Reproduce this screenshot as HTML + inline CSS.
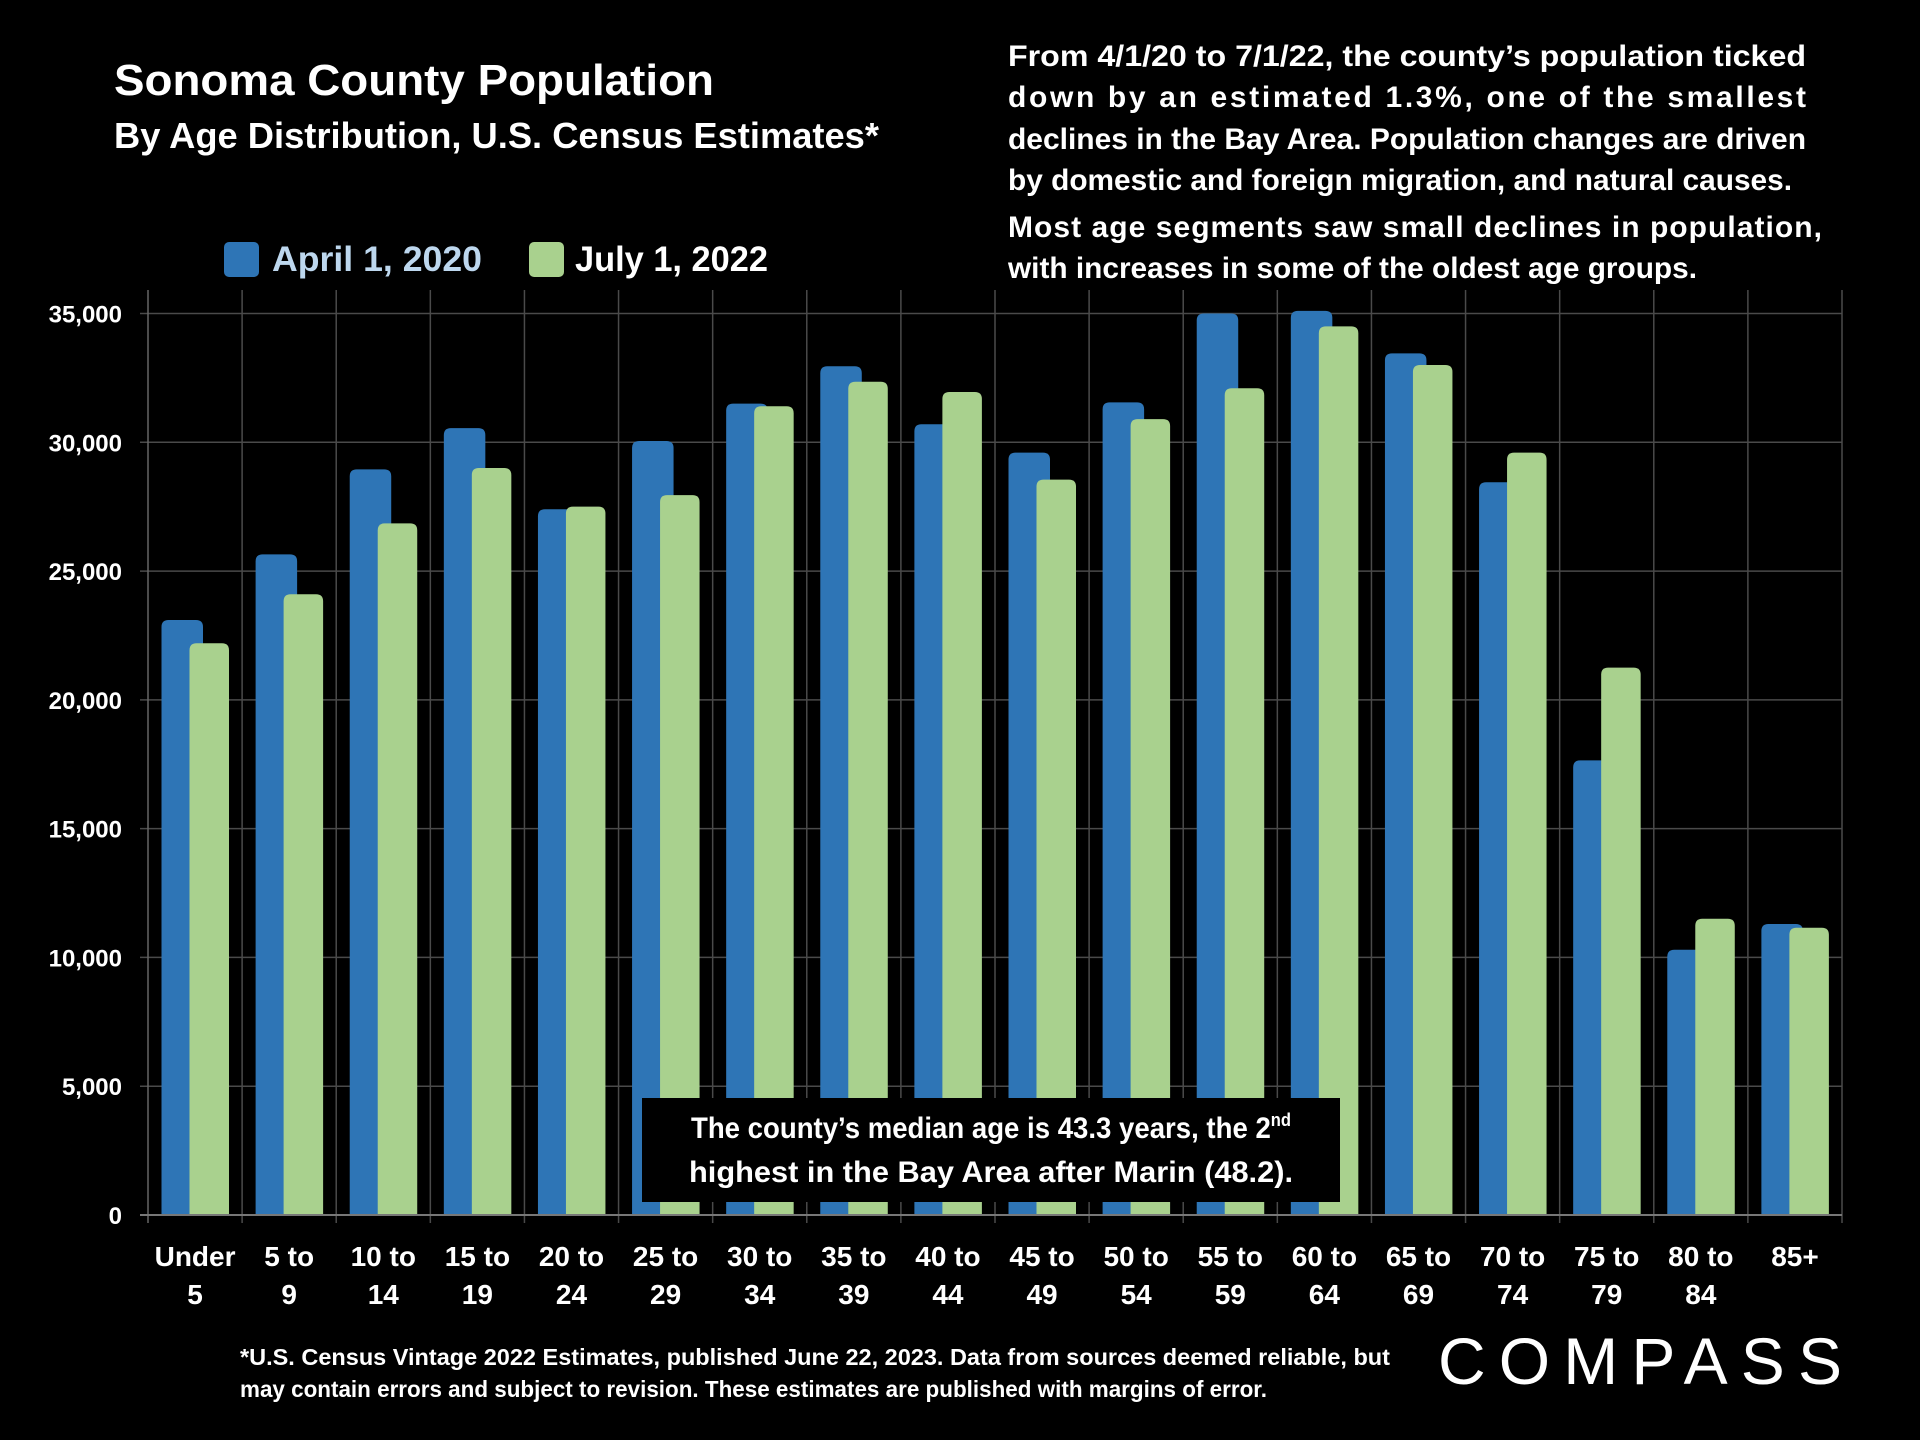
<!DOCTYPE html>
<html><head><meta charset="utf-8"><style>
html,body{margin:0;padding:0;background:#000;}
svg{display:block;font-family:"Liberation Sans",sans-serif;font-weight:bold;}
</style></head><body>
<svg id="chart" width="1920" height="1440" viewBox="0 0 1920 1440" xmlns="http://www.w3.org/2000/svg">
<rect width="1920" height="1440" fill="#000"/>
<g fill="#fff">
<text x="114" y="95" font-size="44" textLength="600" lengthAdjust="spacingAndGlyphs">Sonoma County Population</text>
<text x="114" y="148" font-size="36" textLength="765" lengthAdjust="spacingAndGlyphs">By Age Distribution, U.S. Census Estimates*</text>
</g>
<g fill="#fff" font-size="30">
<text x="1008" y="66" textLength="798" lengthAdjust="spacingAndGlyphs">From 4/1/20 to 7/1/22, the county’s population ticked</text>
<text x="1008" y="107" textLength="798" lengthAdjust="spacing">down by an estimated 1.3%, one of the smallest</text>
<text x="1008" y="149" textLength="798" lengthAdjust="spacingAndGlyphs">declines in the Bay Area. Population changes are driven</text>
<text x="1008" y="190" textLength="784" lengthAdjust="spacingAndGlyphs">by domestic and foreign migration, and natural causes.</text>
<text x="1008" y="237" textLength="814" lengthAdjust="spacing">Most age segments saw small declines in population,</text>
<text x="1008" y="278" textLength="689" lengthAdjust="spacingAndGlyphs">with increases in some of the oldest age groups.</text>
</g>
<g>
<g>
<rect x="224" y="242" width="35" height="35" rx="5" fill="#2e75b6"/>
<text x="272" y="271" font-size="35" fill="#bdd7ee" textLength="210" lengthAdjust="spacingAndGlyphs">April 1, 2020</text>
</g>
<g>
<rect x="529" y="242" width="35" height="35" rx="5" fill="#a9d18e"/>
<text x="575" y="271" font-size="35" fill="#fff" textLength="193" lengthAdjust="spacingAndGlyphs">July 1, 2022</text>
</g>
</g>
<g id="grid"></g>
<g id="bars"></g>
<g id="axes"></g>
<g>
<rect x="642" y="1098" width="698" height="104" fill="#000"/>
<text x="991" y="1138" font-size="30" fill="#fff" text-anchor="middle" textLength="600" lengthAdjust="spacingAndGlyphs">The county’s median age is 43.3 years, the 2<tspan font-size="18" dy="-12">nd</tspan></text>
<text x="991" y="1182" font-size="30" fill="#fff" text-anchor="middle" textLength="604" lengthAdjust="spacingAndGlyphs">highest in the Bay Area after Marin (48.2).</text>
</g>
<g fill="#fff" font-size="23">
<text x="240" y="1365" textLength="1150" lengthAdjust="spacingAndGlyphs">*U.S. Census Vintage 2022 Estimates, published June 22, 2023. Data from sources deemed reliable, but</text>
<text x="240" y="1397" textLength="1027" lengthAdjust="spacingAndGlyphs">may contain errors and subject to revision. These estimates are published with margins of error.</text>
</g>
<g>
<text x="1438" y="1384" font-size="66" font-weight="normal" fill="#fff" textLength="404" lengthAdjust="spacing" style="font-weight:normal">COMPASS</text>
</g>
</svg>
<script>
const categories = ["Under|5","5 to|9","10 to|14","15 to|19","20 to|24","25 to|29","30 to|34","35 to|39","40 to|44","45 to|49","50 to|54","55 to|59","60 to|64","65 to|69","70 to|74","75 to|79","80 to|84","85+|"];
const values2020 = [23100,25650,28950,30550,27400,30050,31500,32950,30700,29600,31550,35000,35100,33450,28450,17650,10300,11300];
const values2022 = [22200,24100,26850,29000,27500,27950,31400,32350,31950,28550,30900,32100,34500,33000,29600,21250,11500,11150];
const yTicks = [0,5000,10000,15000,20000,25000,30000,35000];
const yTickLabels = ["0","5,000","10,000","15,000","20,000","25,000","30,000","35,000"];

const NS = "http://www.w3.org/2000/svg";
const left = 148, right = 1842, y0 = 1215, yTop = 313.5, vMax = 35000;
const band = (right - left) / categories.length;
function yScale(v){ return y0 - (v / vMax) * (y0 - yTop); }
function xBand(i){ return left + i * band; }
function mk(tag, attrs, parent){ const e = document.createElementNS(NS, tag); for (const k in attrs) e.setAttribute(k, attrs[k]); parent.appendChild(e); return e; }
function topRounded(x, y, w, h, r){
  r = Math.min(r, h);
  return `M${x},${y+h} L${x},${y+r} Q${x},${y} ${x+r},${y} L${x+w-r},${y} Q${x+w},${y} ${x+w},${y+r} L${x+w},${y+h} Z`;
}
const grid = document.getElementById('grid'), bars = document.getElementById('bars'), axes = document.getElementById('axes');
yTicks.forEach((t, i) => {
  const y = yScale(t);
  if (t > 0) {
    const l = mk('line', {x1:left-8, x2:right, y1:y, y2:y, stroke:'#4a4a4a', 'stroke-width':1.5}, grid);
    
    
  }
  const tx = mk('text', {x:122, y:y+9, 'font-size':24, fill:'#fff', 'text-anchor':'end'}, axes);
  
  
  tx.textContent = yTickLabels[i];
});
for (let i = 0; i <= categories.length; i++) {
  const x = xBand(i);
  const l = mk('line', {x1:x, x2:x, y1:(i===0?290:290), y2:y0+8, stroke:(i===0?'#666':'#4a4a4a'), 'stroke-width':1.5}, grid);
  
  
}
const base = mk('line', {x1:left-8, x2:right, y1:y0, y2:y0, stroke:'#777', 'stroke-width':2}, axes);


categories.forEach((c, i) => {
  const bx = xBand(i);
  const yb = yScale(values2020[i]);
  const b = mk('path', {d: topRounded(bx + 13.5, yb, 41.5, y0 - yb, 7), fill:'#2e75b6'}, bars);
  
  
  const yg = yScale(values2022[i]);
  const g = mk('path', {d: topRounded(bx + 41.5, yg, 39.5, y0 - yg, 7), fill:'#a9d18e'}, bars);
  
  
  const parts = c.split('|');
  const cx = bx + band / 2;
  parts.forEach((p, j) => {
    if (!p) return;
    const t = mk('text', {x:cx, y:1266 + j*38, 'font-size':28, fill:'#fff', 'text-anchor':'middle'}, axes);
    
    
    t.textContent = p;
  });
});
</script>
</body></html>
